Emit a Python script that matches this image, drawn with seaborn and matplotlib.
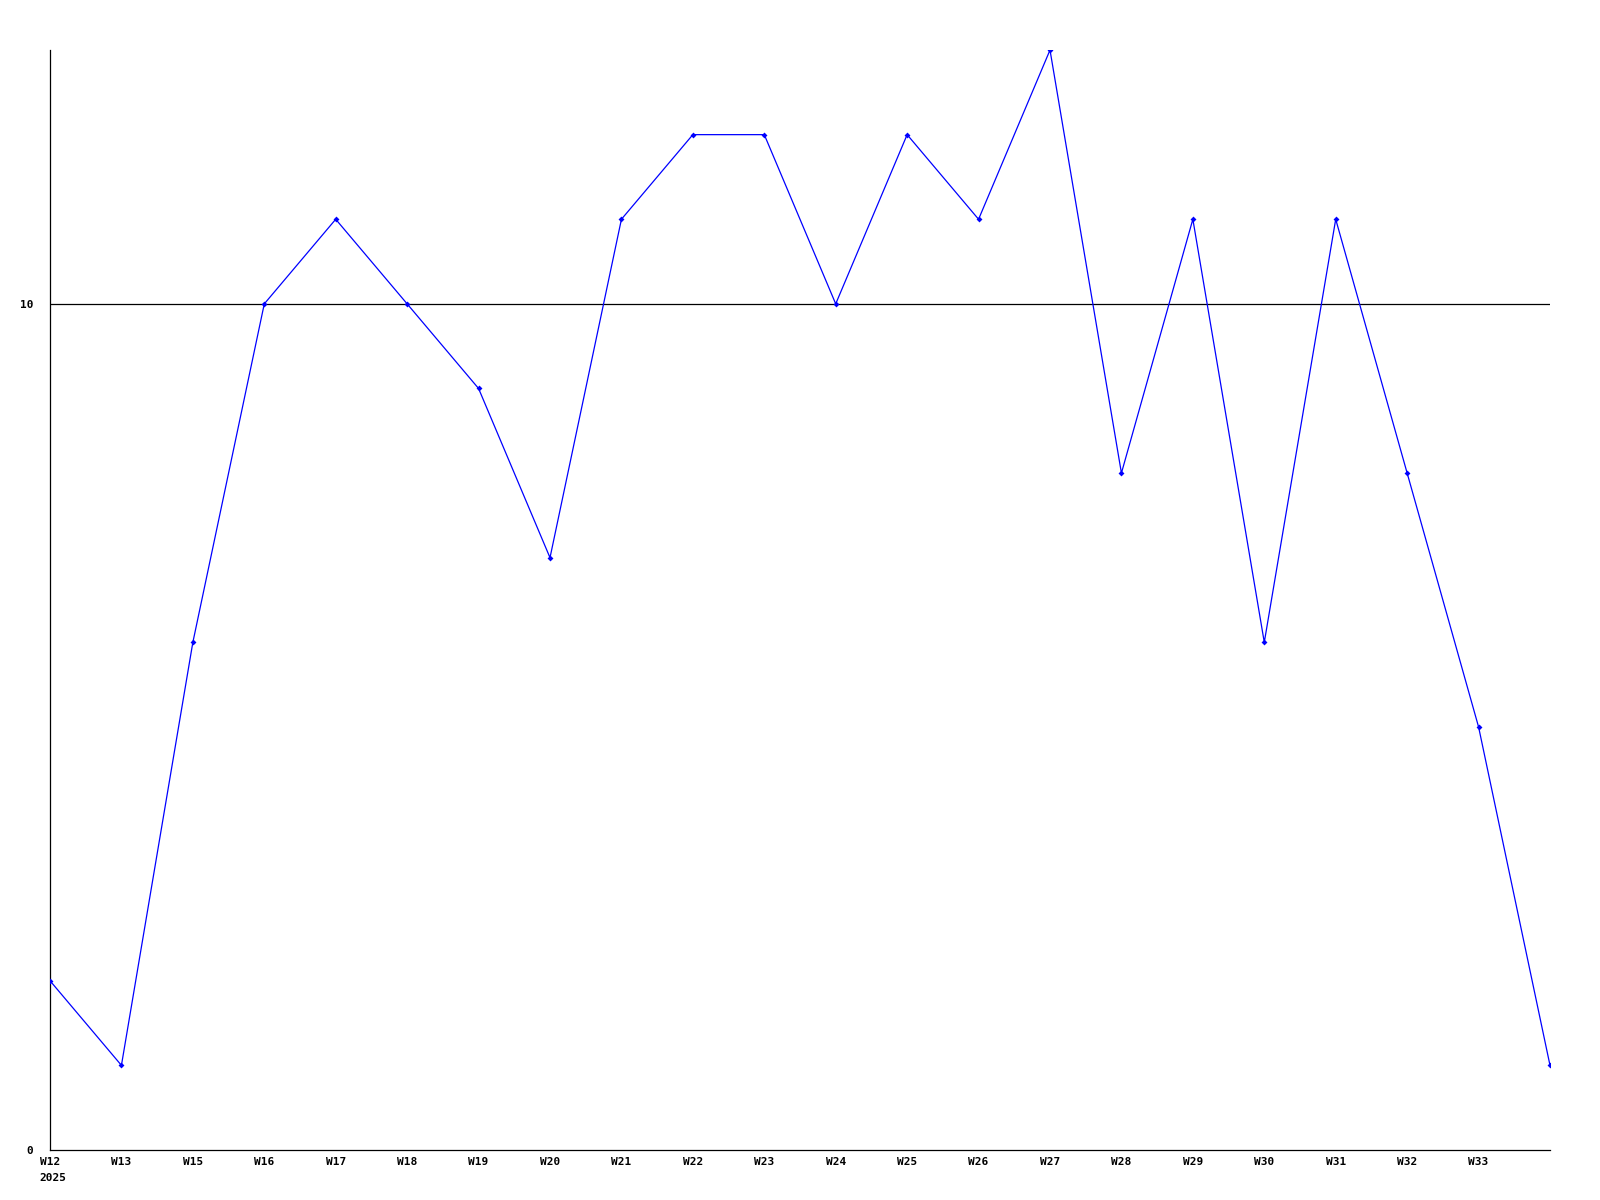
import matplotlib
matplotlib.use("Agg")
import matplotlib.pyplot as plt
import seaborn as sns
import pandas as pd

# weekly values
weeks = ["W12", "W13", "W15", "W16", "W17", "W18", "W19", "W20", "W21", "W22", "W23",
         "W24", "W25", "W26", "W27", "W28", "W29", "W30", "W31", "W32", "W33", ""]
values = [2, 1, 6, 10, 11, 10, 9, 7, 11, 12, 12, 10, 12, 11, 13, 8, 11, 6, 11, 8, 5, 1]
year_label = "2025"
y_ticks = [0, 10]

df = pd.DataFrame({"pos": range(len(values)), "value": values})

sns.set_style("white")
plt.rcParams["font.family"] = ["DejaVu Sans Mono"]
plt.rcParams.update({"text.color": "black", "xtick.color": "black", "ytick.color": "black"})

fig = plt.figure(figsize=(16, 12), dpi=100)
ax = fig.add_axes([0.03125, 0.0417, 0.9375, 0.9166])

ax.axhline(10, color="black", lw=0.9, zorder=1)
sns.lineplot(data=df, x="pos", y="value", ax=ax, color="blue", lw=0.9,
             marker="D", markersize=3, markeredgewidth=0, zorder=3)

ax.set_xlim(0, len(values) - 1)
ax.set_ylim(0, 13)
ax.set_xticks(range(len(weeks) - 1))
ax.set_xticklabels(weeks[:-1], fontsize=8, fontweight="bold")
ax.set_yticks(y_ticks)
ax.set_yticklabels([str(t) for t in y_ticks], fontsize=8, fontweight="bold")
ax.tick_params(axis="x", length=0, pad=5)
ax.tick_params(axis="y", length=0, pad=12)
ax.set_xlabel("")
ax.set_ylabel("")

ax.annotate(year_label, xy=(0, 0), xycoords="data", xytext=(-8, -24),
            textcoords="offset points", fontsize=8, fontweight="bold",
            ha="left", va="bottom", annotation_clip=False)

for side in ["top", "right"]:
    ax.spines[side].set_visible(False)
for side in ["left", "bottom"]:
    ax.spines[side].set_color("black")
    ax.spines[side].set_linewidth(0.9)

fig.savefig("out.png", dpi=100, facecolor="white")
